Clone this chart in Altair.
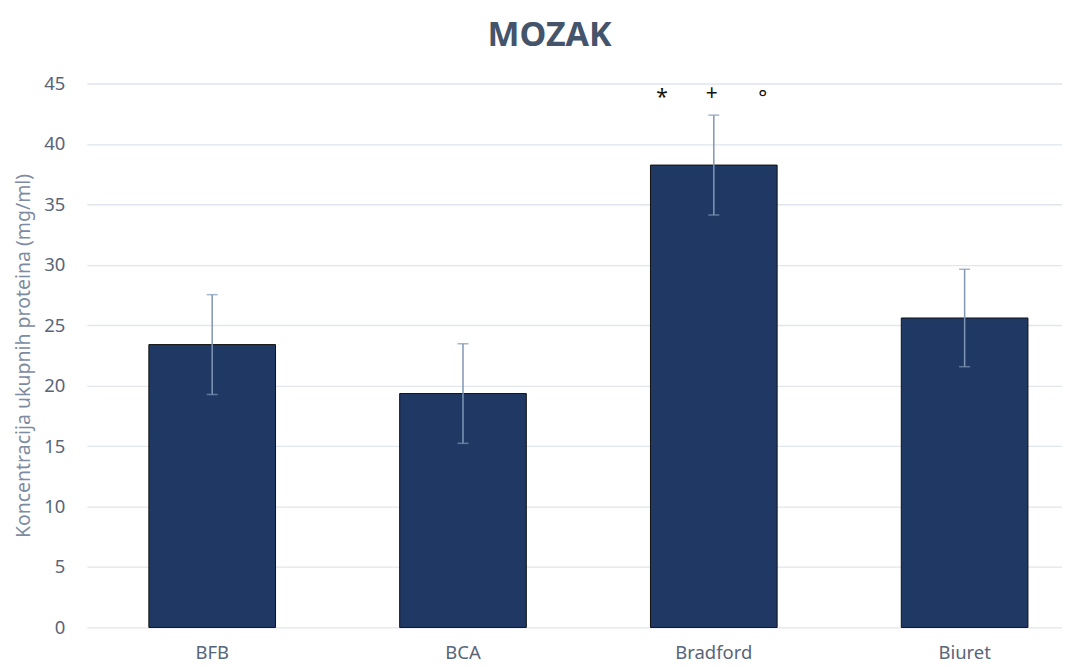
import altair as alt
import pandas as pd

methods = ["BFB", "BCA", "Bradford", "Biuret"]
means = [23.4, 19.35, 38.25, 25.6]
errors = [4.13, 4.12, 4.13, 4.03]

marks_text = ["*", "+", "°"]
marks_y = [43.8, 44.1, 43.7]

df = pd.DataFrame({
    "method": methods,
    "mean": means,
    "lo": [m - e for m, e in zip(means, errors)],
    "hi": [m + e for m, e in zip(means, errors)],
})

FONT = "Noto Sans"
LABEL_COLOR = "#596579"

x_enc = alt.X(
    "method:N",
    sort=methods,
    scale=alt.Scale(paddingInner=0.495, paddingOuter=0.1915, align=0.6455),
    axis=alt.Axis(
        title=None, labelAngle=0, domain=False, ticks=False, tickSize=0,
        labelFontSize=18.5, labelColor=LABEL_COLOR, labelFont=FONT, labelPadding=16,
    ),
)

y_scale = alt.Scale(domain=[0, 45], nice=False)

bars = alt.Chart(df).mark_bar(
    color="#203864", stroke="#111111", strokeWidth=1
).encode(
    x=x_enc,
    y=alt.Y(
        "mean:Q",
        scale=y_scale,
        axis=alt.Axis(
            title="Koncentracija ukupnih proteina (mg/ml)",
            values=list(range(0, 50, 5)),
            domain=False, ticks=False, tickSize=0,
            grid=True, gridColor="#e1e5ec", gridWidth=1.3,
            labelFontSize=18.5, labelColor=LABEL_COLOR, labelFont=FONT,
            labelPadding=22,
            titleFontSize=19.5, titleFont=FONT, titleColor="#7d8ca3",
            titleFontWeight="normal", titlePadding=10,
        ),
    ),
)

rules = alt.Chart(df).mark_rule(color="#7f96b5", strokeWidth=1.5).encode(
    x=alt.X("method:N", sort=methods),
    y=alt.Y("lo:Q", scale=y_scale),
    y2="hi:Q",
)

cap_hi = alt.Chart(df).mark_tick(color="#7f96b5", size=11, thickness=1.5).encode(
    x=alt.X("method:N", sort=methods),
    y=alt.Y("hi:Q", scale=y_scale),
)
cap_lo = alt.Chart(df).mark_tick(color="#7f96b5", size=11, thickness=1.5).encode(
    x=alt.X("method:N", sort=methods),
    y=alt.Y("lo:Q", scale=y_scale),
)

ann_df = pd.DataFrame({"method": ["Bradford"] * 3, "t": marks_text, "y": marks_y})
offsets = [-52, -2, 49]
ann_layers = []
for i, off in enumerate(offsets):
    ann_layers.append(
        alt.Chart(ann_df.iloc[[i]]).mark_text(
            dx=off, fontSize=21, color="#111111", font=FONT, baseline="middle"
        ).encode(
            x=alt.X("method:N", sort=methods),
            y=alt.Y("y:Q", scale=y_scale),
            text="t:N",
        )
    )

chart = alt.layer(bars, rules, cap_hi, cap_lo, *ann_layers).properties(
    width=977,
    height=545,
    padding={"left": 5, "top": 10, "right": 0, "bottom": 0},
    title=alt.TitleParams(
        "MOZAK", fontSize=34, font=FONT, fontWeight="bold", color="#44546a",
        anchor="middle", dx=-25, offset=22,
    ),
).configure_view(stroke=None)

chart.save("out.html", embed_options={"renderer": "svg", "actions": False})
